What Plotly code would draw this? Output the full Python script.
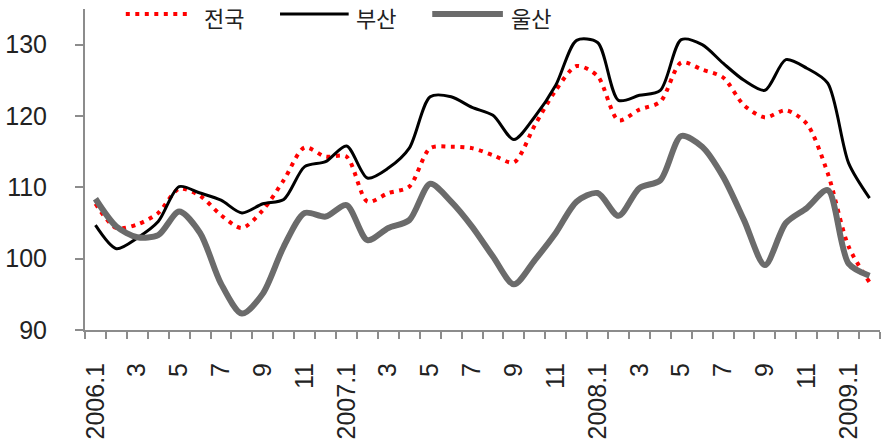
import plotly.graph_objects as go

months = ["2006.1","2","3","4","5","6","7","8","9","10","11","12",
          "2007.1","2","3","4","5","6","7","8","9","10","11","12",
          "2008.1","2","3","4","5","6","7","8","9","10","11","12",
          "2009.1","2"]
tick_labels = ["2006.1","3","5","7","9","11","2007.1","3","5","7","9","11",
               "2008.1","3","5","7","9","11","2009.1"]

jeonguk = [107.7,104.3,104.8,106.4,109.8,108.8,106.1,104.3,106.8,111.0,115.6,114.3,
           114.3,108.0,109.2,110.1,115.5,115.7,115.5,114.5,113.5,118.7,123.6,127.0,
           125.6,119.4,120.9,122.0,127.5,126.5,125.4,121.5,119.8,120.8,118.9,112.0,
           101.7,96.7]
busan = [104.7,101.4,102.9,105.2,110.1,109.2,108.2,106.4,107.7,108.3,112.9,113.6,
         115.8,111.3,112.7,115.5,122.7,122.7,121.2,120.1,116.7,119.9,124.3,130.6,
         130.3,122.2,122.9,123.6,130.7,130.0,127.4,125.0,123.6,127.9,126.7,124.6,
         113.4,108.5]
ulsan = [108.4,104.5,103.0,103.3,106.6,103.6,96.5,92.3,95.1,101.7,106.4,105.9,
         107.5,102.6,104.3,105.4,110.5,108.0,104.5,100.3,96.4,99.8,103.6,108.0,
         109.2,106.0,109.9,111.0,117.2,115.7,111.5,105.4,99.1,105.0,107.1,109.6,
         99.3,97.6]

x = list(range(len(months)))
tickvals = [i for i in x if i % 2 == 0]

fig = go.Figure()
fig.add_trace(go.Scatter(x=x, y=jeonguk, name="전국", mode="lines",
                         line=dict(color="#FF0000", width=4, dash="4px,5.5px", shape="spline", smoothing=0.8)))
fig.add_trace(go.Scatter(x=x, y=busan, name="부산", mode="lines",
                         line=dict(color="#000000", width=3, shape="spline", smoothing=0.8)))
fig.add_trace(go.Scatter(x=x, y=ulsan, name="울산", mode="lines",
                         line=dict(color="#6B6B6B", width=6, shape="spline", smoothing=0.8)))

W, H = 885, 447
PL, PR, PT, PB = 81, 880, 9, 330   # plot area in page pixels
L, T, R, B = PL, PT, W - PR, H - PB

def px(xp):
    return (xp - PL) / (PR - PL)

def py(yp):
    return (PB - yp) / (PB - PT)

legend_items = [("전국", "#FF0000", 4, "4px,5.5px", 122, 188, 199),
                ("부산", "#000000", 3, "solid", 277, 346, 351),
                ("울산", "#6B6B6B", 6, "solid", 430, 501, 507)]
shapes = []
annotations = []
for name, col, w, dash, x0, x1, tx in legend_items:
    shapes.append(dict(type="line", xref="paper", yref="paper",
                       x0=px(x0), x1=px(x1), y0=py(14), y1=py(14),
                       line=dict(color=col, width=w, dash=dash)))
    annotations.append(dict(text=name, xref="paper", yref="paper",
                            x=px(tx), y=py(17), xanchor="left", yanchor="middle",
                            showarrow=False,
                            font=dict(family="Noto Sans CJK KR", size=22, color="#222222")))

fig.update_layout(
    width=W, height=H,
    margin=dict(l=L, r=R, t=T, b=B),
    paper_bgcolor="white", plot_bgcolor="white",
    showlegend=False,
    shapes=shapes, annotations=annotations,
    font=dict(family="Liberation Sans, Arial", size=24, color="#222222"),
)
fig.update_xaxes(
    range=[-0.5, len(months) - 0.5],
    tickmode="array", tickvals=tickvals, ticktext=tick_labels,
    tickangle=-90, ticks="", ticklabelstandoff=21,
    showgrid=False, zeroline=False,
    showline=True, linecolor="#8C8C8C", linewidth=2,
    minor=dict(tickvals=[i - 0.5 for i in range(len(months) + 1)],
               ticks="outside", ticklen=7, tickcolor="#8C8C8C", tickwidth=2,
               showgrid=False),
    tickfont=dict(size=25),
)
fig.update_yaxes(
    range=[90, 135],
    tickmode="array", tickvals=[90, 100, 110, 120, 130],
    ticks="outside", ticklen=8, tickcolor="#8C8C8C", tickwidth=2,
    ticklabelstandoff=23,
    showgrid=False, zeroline=False,
    showline=True, linecolor="#8C8C8C", linewidth=2,
    tickfont=dict(size=25),
)

fig.write_html("out.html", config={"displayModeBar": False},
               post_script="document.body.style.margin='0';")
